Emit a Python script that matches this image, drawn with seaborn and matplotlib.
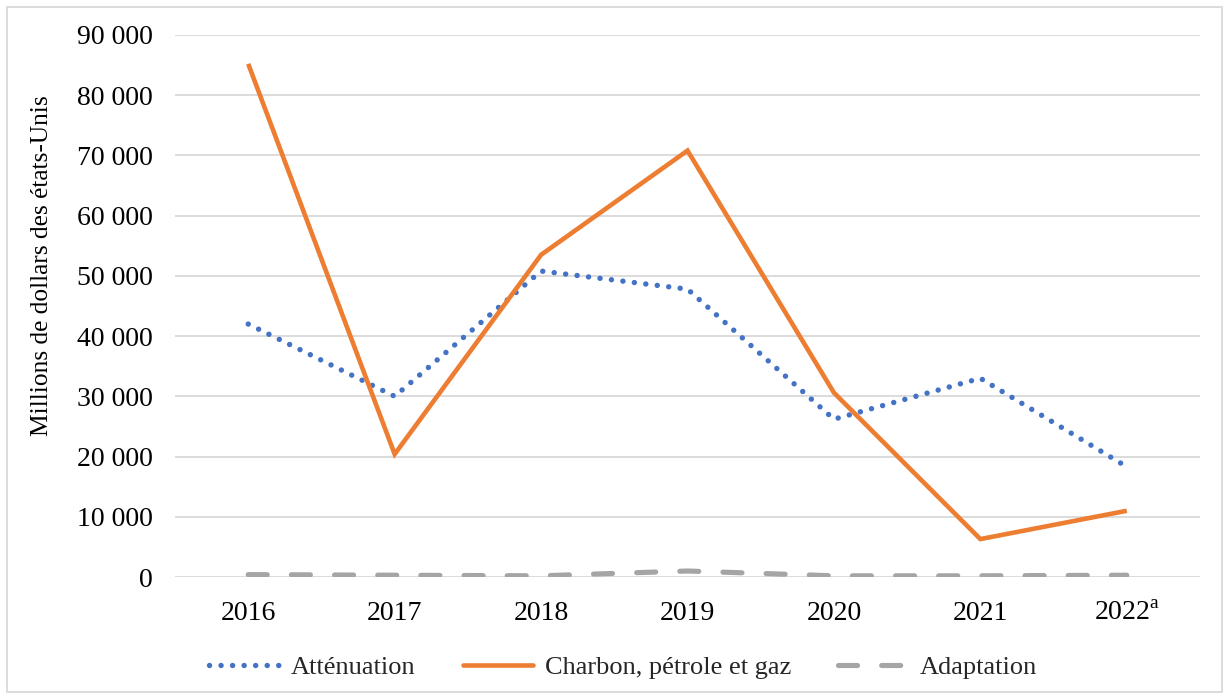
import matplotlib
matplotlib.use("Agg")
import matplotlib.pyplot as plt
import seaborn as sns
import pandas as pd
from matplotlib.patches import Rectangle

years = ["2016", "2017", "2018", "2019", "2020", "2021", "2022"]
year_labels = ["2016", "2017", "2018", "2019", "2020", "2021", "2022$^{\\mathrm{a}}$"]
attenuation = [42000, 30000, 50800, 47800, 26200, 33000, 18300]
fossiles = [85200, 20400, 53500, 70800, 30600, 6300, 11000]
adaptation = [400, 300, 200, 1000, 200, 200, 300]
series_names = ["Atténuation", "Charbon, pétrole et gaz", "Adaptation"]

sns.set_theme(style="white")
plt.rcParams["font.family"] = ["Liberation Serif", "DejaVu Serif"]
plt.rcParams["mathtext.fontset"] = "custom"
plt.rcParams["mathtext.rm"] = "Liberation Serif"

rows = []
for name, vals in zip(series_names, [attenuation, fossiles, adaptation]):
    for i, v in enumerate(vals):
        rows.append({"idx": i, "valeur": v, "serie": name})
df = pd.DataFrame(rows)

fig = plt.figure(figsize=(12.29, 6.99), dpi=100)
ax = fig.add_axes([0.1424, 0.1745, 0.834, 0.7755])

palette = {"Atténuation": "#4472C4", "Charbon, pétrole et gaz": "#ED7D31",
           "Adaptation": "#A5A5A5"}
sns.lineplot(data=df, x="idx", y="valeur", hue="serie", palette=palette,
             hue_order=series_names, ax=ax, legend=False)

styles = {
    "Atténuation": dict(lw=3.9, ls=(0, (0.01, 2.12)), dash_capstyle="round"),
    "Charbon, pétrole et gaz": dict(lw=3.3, ls="-", solid_capstyle="butt", solid_joinstyle="miter"),
    "Adaptation": dict(lw=3.7, ls=(0, (3.7, 4.7)), dash_capstyle="round"),
}
for line, name in zip(ax.get_lines(), series_names):
    st = styles[name]
    line.set_linewidth(st["lw"])
    line.set_linestyle(st["ls"])
    if "dash_capstyle" in st:
        line.set_dash_capstyle(st["dash_capstyle"])
    else:
        line.set_solid_capstyle(st["solid_capstyle"])
        line.set_solid_joinstyle(st["solid_joinstyle"])

ax.set_xlim(-0.5, len(years) - 0.5)
ax.set_ylim(0, 90000)
ax.set_yticks(range(0, 90001, 10000))
ax.set_yticklabels([f"{v:,}".replace(",", " ") for v in range(0, 90001, 10000)])
ax.set_xticks(range(len(years)))
ax.set_xticklabels(year_labels)
ax.tick_params(axis="both", labelsize=20, colors="black", length=0)
ax.tick_params(axis="y", pad=16)
ax.tick_params(axis="x", pad=17.5)
ax.yaxis.grid(True, color="#D9D9D9", lw=1.3)
ax.set_axisbelow(True)
for s in ax.spines.values():
    s.set_visible(False)
ax.set_xlabel("")
ax.set_ylabel("Millions de dollars des états-Unis", fontsize=18.3, color="black")
ax.yaxis.set_label_coords(-0.119, 0.574)

handles = []
for name in series_names:
    st = styles[name]
    h, = ax.plot([], [], color=palette[name], lw=st["lw"], ls=st["ls"])
    if "dash_capstyle" in st:
        h.set_dash_capstyle(st["dash_capstyle"])
    handles.append(h)
fig.legend(handles, series_names, loc="center", bbox_to_anchor=(0.507, 0.045),
           ncol=3, frameon=False, fontsize=19, handlelength=2.65, columnspacing=1.8,
           handletextpad=0.45)

fig.patches.append(Rectangle((0.006, 0.01), 0.988, 0.98, transform=fig.transFigure,
                             fill=False, edgecolor="#D9D9D9", lw=1.3))

fig.savefig("out.png", dpi=100)
